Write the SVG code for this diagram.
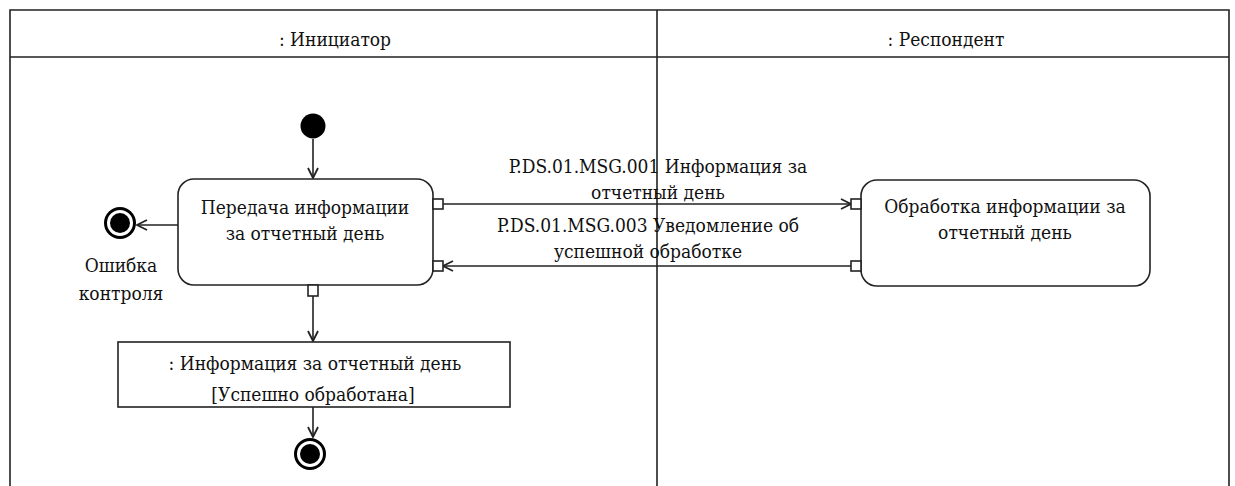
<svg xmlns="http://www.w3.org/2000/svg" width="1235" height="486" viewBox="0 0 1235 486">
<defs>
<style>
text{font-family:"DejaVu Serif","Liberation Serif",serif;font-size:19px;fill:#111;text-anchor:middle;font-stretch:condensed}
.ln{stroke:#222;stroke-width:1.6;fill:none}
.box{fill:#fff;stroke:#222;stroke-width:1.6}
.port{fill:#fff;stroke:#222;stroke-width:1.6}
</style>
<marker id="arr" viewBox="0 0 12 12" refX="11" refY="6" markerWidth="12" markerHeight="12" markerUnits="userSpaceOnUse" orient="auto">
<path d="M1,1 L11,6 L1,11" fill="none" stroke="#222" stroke-width="1.8"/>
</marker>
</defs>
<rect width="1235" height="486" fill="#fff"/>
<g id="lanes">
<path class="ln" d="M10,486 V10 H1229 V486 M10,57 H1229 M657,10 V486"/>
<text x="335" y="46">: Инициатор</text>
<text x="946" y="46">: Респондент</text>
</g>
<g id="connectors">
<line class="ln" x1="313" y1="139" x2="313" y2="178" marker-end="url(#arr)"/>
<line class="ln" x1="178" y1="225" x2="137" y2="225" marker-end="url(#arr)"/>
<line class="ln" x1="443" y1="204" x2="851" y2="204" marker-end="url(#arr)"/>
<line class="ln" x1="851" y1="266" x2="443" y2="266" marker-end="url(#arr)"/>
<line class="ln" x1="313" y1="296" x2="313" y2="341" marker-end="url(#arr)"/>
<line class="ln" x1="313" y1="407" x2="313" y2="437" marker-end="url(#arr)"/>
<text x="658" y="173">P.DS.01.MSG.001 Информация за</text>
<text x="658" y="199">отчетный день</text>
<text x="648" y="232">P.DS.01.MSG.003 Уведомление об</text>
<text x="648" y="258">успешной обработке</text>
</g>
<g id="start">
<circle cx="313" cy="126" r="12.5" fill="#000"/>
</g>
<g id="action1">
<rect class="box" x="178" y="179" width="255" height="106" rx="16"/>
<rect class="port" x="433" y="199" width="10" height="10"/>
<rect class="port" x="433" y="261" width="10" height="10"/>
<rect class="port" x="308" y="285" width="10" height="11"/>
<text x="305" y="214">Передача информации</text>
<text x="305" y="240">за отчетный день</text>
</g>
<g id="action2">
<rect class="box" x="861" y="180" width="289" height="106" rx="16"/>
<rect class="port" x="851" y="199" width="10" height="10"/>
<rect class="port" x="851" y="261" width="10" height="10"/>
<text x="1005" y="213">Обработка информации за</text>
<text x="1005" y="239">отчетный день</text>
</g>
<g id="errorEnd">
<circle cx="120" cy="223" r="14.5" fill="none" stroke="#000" stroke-width="3"/>
<circle cx="120" cy="223" r="10" fill="#000"/>
<text x="121" y="272">Ошибка</text>
<text x="121" y="300">контроля</text>
</g>
<g id="object">
<rect class="box" x="118" y="342" width="392" height="65"/>
<text x="315" y="370">: Информация за отчетный день</text>
<text x="313" y="401">[Успешно обработана]</text>
</g>
<g id="finalEnd">
<circle cx="310" cy="454" r="14.5" fill="none" stroke="#000" stroke-width="3"/>
<circle cx="310" cy="454" r="10" fill="#000"/>
</g>
</svg>
